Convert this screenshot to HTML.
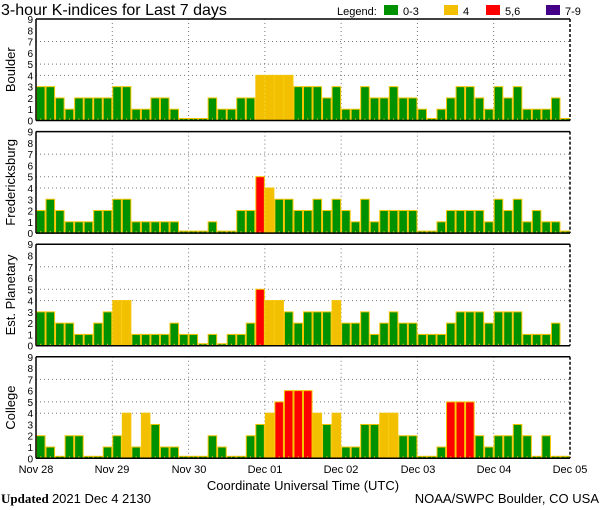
<!DOCTYPE html>
<html><head><meta charset="utf-8"><style>body{margin:0;background:#fff}svg{display:block}</style></head>
<body>
<svg id="s" width="600" height="510" xmlns="http://www.w3.org/2000/svg" font-family="Liberation Sans, sans-serif">
<text x="1" y="15" font-size="16">3-hour K-indices for Last 7 days</text>
<text x="337" y="15" font-size="11">Legend:</text>
<rect x="384" y="5" width="14" height="10" fill="#009100"/><text x="403" y="15" font-size="11">0-3</text>
<rect x="444" y="5" width="14" height="10" fill="#f2c000"/><text x="463" y="15" font-size="11">4</text>
<rect x="486" y="5" width="14" height="10" fill="#ff0000"/><text x="505" y="15" font-size="11">5,6</text>
<rect x="546" y="5" width="14" height="10" fill="#440088"/><text x="565" y="15" font-size="11">7-9</text>
<g id="g"></g>
<g font-size="11" text-anchor="middle">
<text x="36" y="473">Nov 28</text><text x="112" y="473">Nov 29</text><text x="189" y="473">Nov 30</text><text x="265" y="473">Dec 01</text><text x="341" y="473">Dec 02</text><text x="418" y="473">Dec 03</text><text x="494" y="473">Dec 04</text><text x="570" y="473">Dec 05</text>
</g>
<text x="303" y="490" font-size="13" text-anchor="middle">Coordinate Universal Time (UTC)</text>
<text x="1" y="503" font-size="13" font-family="Liberation Serif, serif"><tspan font-weight="bold">Updated</tspan> <tspan font-family="Liberation Sans, sans-serif">2021 Dec  4 2130</tspan></text>
<text x="599" y="503" font-size="13" text-anchor="end">NOAA/SWPC Boulder, CO USA</text>
</svg>
<script>
var D=[
["Boulder",[3,3,2,1,2,2,2,2, 3,3,1,1,2,2,1,0, 0,0,2,1,1,2,2,4, 4,4,4,3,3,3,2,3, 1,1,3,2,2,3,2,2, 1,0,1,2,3,3,2,1, 3,2,3,1,1,1,2,0]],
["Fredericksburg",[2,3,2,1,1,1,2,2, 3,3,1,1,1,1,1,0, 0,0,1,0,0,2,2,5, 4,3,3,2,2,3,2,3, 2,1,3,1,2,2,2,2, 0,0,1,2,2,2,2,1, 3,2,3,1,2,1,1,0]],
["Est. Planetary",[3,3,2,2,1,1,2,3, 4,4,1,1,1,1,2,1, 1,0,1,0,1,1,2,5, 4,4,3,2,3,3,3,4, 2,2,3,1,2,3,2,2, 1,1,1,2,3,3,3,2, 3,3,3,1,1,1,2,null]],
["College",[2,1,0,2,2,0,0,1, 2,4,1,4,3,1,1,0, 0,0,2,1,0,0,2,3, 4,5,6,6,6,4,3,4, 1,1,3,3,4,4,2,2, 0,0,1,5,5,5,2,1, 2,2,3,2,0,2,0,0]]];
var h='',L=36,R=570,W=(R-L)/56;
D.forEach(function(p,i){
 var T=19+i*112.6,B=T+101.5,u=(B-T)/9;
 [4,5,7].forEach(function(k){var y=B-k*u;h+='<line x1="'+L+'" x2="'+R+'" y1="'+y+'" y2="'+y+'" stroke="#777" stroke-dasharray="1,3"/>';});
 for(var d=1;d<7;d++){var x=L+d*W*8;h+='<line x1="'+x+'" x2="'+x+'" y1="'+T+'" y2="'+B+'" stroke="#777" stroke-dasharray="1,3"/>';}
 p[1].forEach(function(v,j){ if(v===null)return; var x=L+j*W,hh=v==0?2:v*u;
  var c=v<=3?'#009100':v==4?'#f2c000':v<=6?'#ff0000':'#440088';
  h+='<rect x="'+(x+0.5)+'" y="'+(B-hh)+'" width="'+(W-1)+'" height="'+hh+'" fill="'+c+'" stroke="#f5c400" stroke-width="1"/>';
  h+='<line x1="'+(x+W/2)+'" x2="'+(x+W/2)+'" y1="'+(B-2)+'" y2="'+B+'" stroke="#f5c400"/>';});
 h+='<line x1="'+L+'" x2="'+R+'" y1="'+T+'" y2="'+T+'" stroke="#000" stroke-width="1.5"/>';
 h+='<line x1="'+L+'" x2="'+R+'" y1="'+B+'" y2="'+B+'" stroke="#000" stroke-width="1.5"/>';
 h+='<line x1="'+L+'" x2="'+L+'" y1="'+T+'" y2="'+B+'" stroke="#000" stroke-width="1.5"/>';
 h+='<line x1="'+R+'" x2="'+R+'" y1="'+T+'" y2="'+B+'" stroke="#000" stroke-width="1.5" stroke-dasharray="3,2"/>';
 for(var k=0;k<=9;k++){h+='<text x="33" y="'+(B-k*u+4)+'" font-size="10" text-anchor="end">'+k+'</text>';}
 var cy=(T+B)/2;h+='<text transform="translate(15,'+cy+') rotate(-90)" font-size="13" text-anchor="middle">'+p[0]+'</text>';
});
document.getElementById('g').innerHTML=h;
</script>
</body></html>
